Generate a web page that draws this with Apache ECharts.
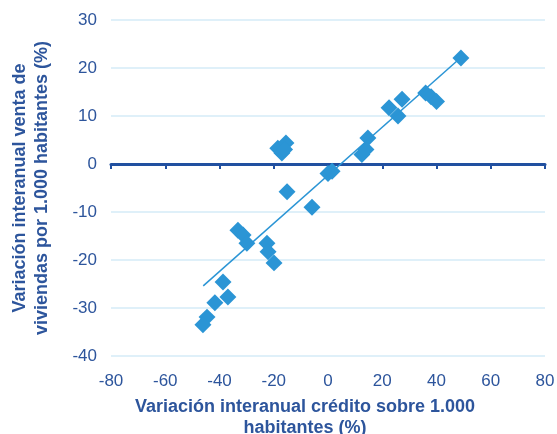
<!DOCTYPE html>
<html>
<head>
<meta charset="utf-8">
<script src="https://cdn.jsdelivr.net/npm/echarts@6/dist/echarts.min.js"></script>
<style>
html, body { margin: 0; padding: 0; background: #fff; }
#chart { width: 557px; height: 434px; }
</style>
</head>
<body>
<div id="chart"></div>
<script>
// credit change (x) vs housing sales change (y), % per 1,000 inhabitants
var creditX = [49, 36, 38, 40, 27.3, 22.5, 25.8, 14.7, 12.5, 14, 0, 1.5, -5.9, -15.1,
	-18.5, -15.5, -17, -16, -33.2, -31.3, -29.9, -22.5, -22.1, -19.9,
	-38.7, -36.9, -41.7, -44.6, -46.1];
var salesY = [22.1, 14.8, 14, 13, 13.5, 11.7, 10, 5.4, 2, 3, -2, -1.5, -9, -5.8,
	3.3, 4.4, 2.3, 3, -13.8, -14.8, -16.5, -16.5, -18.3, -20.6,
	-24.6, -27.7, -28.9, -31.9, -33.5];
var trendX = [-46, 49];
var trendY = [-25.4, 22.2];
var xTicks = [-80, -60, -40, -20, 0, 20, 40, 60, 80];
var yTicks = [-40, -30, -20, -10, 0, 10, 20, 30];

var textBlue = '#2d559c';
var pts = creditX.map(function (x, i) { return [x, salesY[i]]; });
var line = trendX.map(function (x, i) { return [x, trendY[i]]; });

var chart = echarts.init(document.getElementById('chart'));
var option = {
	animation : false,
	grid : {
		left : 111,
		right : 12,
		top : 20,
		bottom : 78,
		outerBoundsMode : 'none'
	},
	xAxis : [ {
		type : 'value',
		min : xTicks[0],
		max : xTicks[xTicks.length - 1],
		interval : 20,
		position : 'bottom',
		axisLine : { show : false, onZero : false },
		axisTick : { show : false },
		splitLine : { show : false },
		axisLabel : {
			color : textBlue,
			fontSize : 17,
			fontFamily : 'Liberation Sans',
			margin : 17
		},
		name : 'Variación interanual crédito sobre 1.000\nhabitantes (%)',
		nameLocation : 'middle',
		nameGap : 41,
		nameTextStyle : {
			color : textBlue,
			fontSize : 18,
			fontWeight : 'bold',
			fontFamily : 'Liberation Sans',
			lineHeight : 21,
			padding : [0, 46, 0, 0]
		}
	}, {
		// dark zero line with ticks
		type : 'value',
		min : xTicks[0],
		max : xTicks[xTicks.length - 1],
		interval : 20,
		position : 'bottom',
		axisLine : {
			onZero : true,
			lineStyle : { color : '#2150a0', width : 3 }
		},
		axisTick : {
			length : 5,
			lineStyle : { color : '#2150a0', width : 2 }
		},
		axisLabel : { show : false },
		splitLine : { show : false }
	} ],
	yAxis : {
		type : 'value',
		min : yTicks[0],
		max : yTicks[yTicks.length - 1],
		interval : 10,
		axisLine : { show : false },
		axisTick : { show : false },
		splitLine : {
			lineStyle : { color : '#d5ebf7', width : 1.5 }
		},
		axisLabel : {
			color : textBlue,
			fontSize : 17,
			fontFamily : 'Liberation Sans',
			margin : 14
		},
		name : 'Variación interanual venta de\nviviendas por 1.000 habitantes (%)',
		nameLocation : 'middle',
		nameGap : 58,
		nameTextStyle : {
			color : textBlue,
			fontSize : 18,
			fontWeight : 'bold',
			fontFamily : 'Liberation Sans',
			lineHeight : 22
		}
	},
	series : [ {
		type : 'line',
		data : line,
		symbol : 'none',
		lineStyle : { color : '#2b95d5', width : 1.5 },
		z : 3
	}, {
		type : 'scatter',
		data : pts,
		symbol : 'rect',
		symbolSize : 12,
		symbolRotate : 45,
		itemStyle : { color : '#2b95d5', opacity : 1 },
		z : 2
	} ]
};
chart.setOption(option);
</script>
</body>
</html>
